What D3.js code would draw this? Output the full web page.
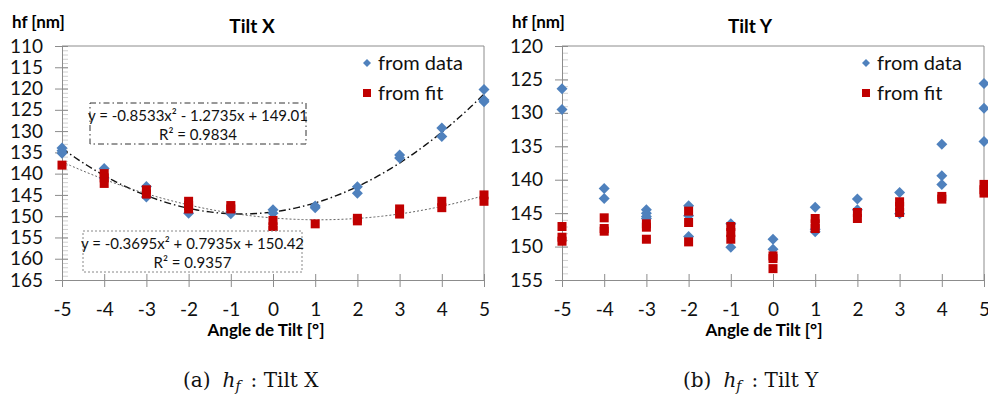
<!DOCTYPE html>
<html>
<head>
<meta charset="utf-8">
<script src="https://cdn.jsdelivr.net/npm/d3@7"></script>
<style>
  body { margin: 0; background: #fff; }
  .axis path, .axis line { stroke: #8c8c8c; }
  .axis text { font-family: Lato, sans-serif; font-size: 19px; fill: #111; }
</style>
</head>
<body>
<div id="chart"></div>
<script>
// Data

var angles = [-5, -4, -3, -2, -1, 0, 1, 2, 3, 4, 5];

var tiltXData = [[134, 134.6, 135.2], [138.8, 141], [143, 145.5], [149.3], [149, 149.4],
    [148.5, 149.3], [147.6, 148], [143.1, 144.6], [135.6, 136.3], [129.3, 131.3], [120.2, 122.7, 123.1]];
var tiltXFit = [[138], [140, 141, 142.3], [143.8, 144.8], [146.5, 147.5, 148.3], [147.5, 148.3],
    [151, 152.5, 153.3], [151.8], [150.5, 151.1], [148.3, 149.5], [146.5, 148], [145, 146.5]];

var tiltYData = [[126.4, 129.5], [141.3, 142.8], [144.5, 145, 145.5, 145.8], [143.9, 145.4, 148.5],
    [146.6, 150.1], [148.9, 150.4], [144.1, 147.4, 147.8], [142.9, 144.5], [141.9, 145.1],
    [134.7, 139.4, 140.7], [125.6, 129.3, 134.3]];
var tiltYFit = [[147, 148.6, 149.2], [145.7, 147.3, 147.7], [146.6, 147.1, 148.9], [144.7, 146.4, 149.3],
    [147, 147.9, 148.9], [151.4, 151.8, 153.3], [145.8, 146.6, 147.3], [144.9, 145.8],
    [143.3, 144, 144.9], [142.5, 142.9], [140.7, 141.5, 142]];

// trendline coefficients (a, b, c) for y = a x^2 + b x + c
var dataCoef = [-0.8533, -1.2735, 149.01],
    fitCoef = [-0.3695, 0.7935, 150.42];

var dataEq = ["y = -0.8533x² - 1.2735x + 149.01", "R² = 0.9834"],
    fitEq = ["y = -0.3695x² + 0.7935x + 150.42", "R² = 0.9357"];

var xTicks = angles;
var yTicksX = d3.range(110, 166, 5),
    yTicksY = d3.range(120, 156, 5);

var seriesNames = ["from data", "from fit"];

var blue = "#4f81bd",
    red = "#c00000";

var width = 988,
    height = 395;

var svg = d3.select("#chart").append("svg")
    .attr("width", width)
    .attr("height", height);

var flatten = function(groups) {
    var out = [];
    groups.forEach(function(g, i) {
        g.forEach(function(v) { out.push({x: angles[i], y: v}); });
    });
    return out;
};

// plain hyphen for negatives, like the original
var fmt = function(d) { return String(d); };

var drawPanel = function(opt) {
    var x = d3.scaleLinear().domain([-5, 5]).range([opt.left, opt.right]);
    var y = d3.scaleLinear().domain(opt.yDomain).range([46, 280]);

    var g = svg.append("g");

    // plot border (top / right)
    g.append("path")
        .attr("d", "M" + x(-5) + "," + y(opt.yDomain[0]) + "H" + x(5) + "V" + y(opt.yDomain[1]))
        .attr("fill", "none")
        .attr("stroke", "#8c8c8c");

    // minor ticks
    g.selectAll(".minor")
        .data(d3.range(opt.yDomain[0], opt.yDomain[1] + 1, 1))
        .enter().append("line")
        .attr("x1", x(-5)).attr("x2", x(-5) + 6)
        .attr("y1", function(d) { return y(d) + 0.5; })
        .attr("y2", function(d) { return y(d) + 0.5; })
        .attr("stroke", "#d0d0d0");

    g.append("g")
        .attr("class", "axis")
        .attr("transform", "translate(" + x(-5) + ",0)")
        .call(d3.axisLeft(y).tickValues(opt.yTicks).tickFormat(fmt).tickSize(7).tickPadding(12).tickSizeOuter(0))
        .call(function(a) {
            a.selectAll(".tick line").attr("x2", -7).attr("x1", 6).attr("stroke", "#b0b0b0");
        });

    g.append("g")
        .attr("class", "axis")
        .attr("transform", "translate(0," + y(opt.yDomain[1]) + ")")
        .call(d3.axisBottom(x).tickValues(xTicks).tickFormat(fmt).tickSize(7).tickPadding(16).tickSizeOuter(0))
        .call(function(a) {
            a.selectAll(".tick line").attr("y1", -6).attr("stroke", "#c8c8c8");
            a.selectAll(".tick text").attr("dy", "0.71em");
        });

    // trendlines
    if (opt.trends) {
        var xs = d3.range(-5, 5.001, 0.1);
        var line = d3.line()
            .x(function(d) { return x(d); });
        opt.trends.forEach(function(t) {
            g.append("path")
                .datum(xs)
                .attr("d", line.y(function(d) { return y(t.coef[0] * d * d + t.coef[1] * d + t.coef[2]); }))
                .attr("fill", "none")
                .attr("stroke", t.color)
                .attr("stroke-width", t.w)
                .attr("stroke-dasharray", t.dash);
        });
    }

    // from data: diamonds
    g.selectAll(".dia")
        .data(flatten(opt.data))
        .enter().append("path")
        .attr("d", "M0,-5.5L5.5,0L0,5.5L-5.5,0Z")
        .attr("transform", function(d) { return "translate(" + x(d.x) + "," + y(d.y) + ")"; })
        .attr("fill", blue);

    // from fit: squares
    g.selectAll(".sq")
        .data(flatten(opt.fit))
        .enter().append("rect")
        .attr("x", function(d) { return x(d.x) - 4.5; })
        .attr("y", function(d) { return y(d.y) - 4.5; })
        .attr("width", 9).attr("height", 9)
        .attr("fill", red);

    // equation boxes
    if (opt.boxes) {
        opt.boxes.forEach(function(b) {
            g.append("rect")
                .attr("x", b.x).attr("y", b.y).attr("width", b.w).attr("height", b.h)
                .attr("fill", "#fff")
                .attr("stroke", b.stroke)
                .attr("stroke-dasharray", b.dash);
            g.selectAll(null)
                .data(b.text)
                .enter().append("text")
                .attr("x", b.x + b.w / 2)
                .attr("y", function(d, i) { return b.y + 18 + i * 19; })
                .attr("text-anchor", "middle")
                .style("font-family", "Lato, sans-serif")
                .style("font-size", "15px")
                .attr("fill", "#111")
                .text(function(d) { return d; });
        });
    }

    // titles
    g.append("text")
        .attr("x", opt.left - 50).attr("y", 28)
        .style("font-family", "Lato, sans-serif").style("font-size", "17px").style("font-weight", "bold")
        .text("hf [nm]");
    g.append("text")
        .attr("x", opt.titleX).attr("y", 33)
        .attr("text-anchor", "middle")
        .style("font-family", "Lato, sans-serif").style("font-size", "19px").style("font-weight", "bold")
        .text(opt.title);
    g.append("text")
        .attr("x", opt.axisTitleX).attr("y", 336)
        .attr("text-anchor", "middle")
        .style("font-family", "Lato, sans-serif").style("font-size", "17px").style("font-weight", "bold")
        .text("Angle de Tilt [°]");

    // legend
    var lg = g.append("g").attr("transform", "translate(" + opt.legendX + ",63)");
    lg.append("path").attr("d", "M0,-4L4,0L0,4L-4,0Z").attr("fill", blue);
    lg.append("rect").attr("x", -4).attr("y", 26).attr("width", 8).attr("height", 8).attr("fill", red);
    lg.selectAll(".lt")
        .data(seriesNames)
        .enter().append("text")
        .attr("x", 11)
        .attr("y", function(d, i) { return 7 + i * 30; })
        .style("font-family", "Lato, sans-serif").style("font-size", "20px")
        .attr("fill", "#111")
        .text(function(d) { return d; });

    // caption
    var cap = svg.append("text")
        .attr("x", opt.captionX).attr("y", 387)
        .style("font-family", "'DejaVu Serif', serif").style("font-size", "20px")
        .attr("fill", "#111");
    cap.append("tspan").text(opt.captionTag);
    cap.append("tspan").attr("dx", 12).style("font-style", "italic").text("h");
    cap.append("tspan").style("font-style", "italic").style("font-size", "14px").attr("dy", 4).text("f");
    cap.append("tspan").attr("dy", -4).attr("dx", 10).text(": " + opt.title);
};

drawPanel({
    left: 62, right: 484,
    yDomain: [110, 165], yTicks: yTicksX,
    data: tiltXData, fit: tiltXFit,
    title: "Tilt X", titleX: 252, axisTitleX: 266,
    legendX: 367, captionX: 183, captionTag: "(a)",
    trends: [
        {coef: dataCoef, color: "#111", w: 1.4, dash: "7,3,1.5,3"},
        {coef: fitCoef, color: "#666", w: 1, dash: "2,2"}
    ],
    boxes: [
        {x: 90, y: 103, w: 216, h: 41, stroke: "#333", dash: "6,3,1.5,3", text: dataEq},
        {x: 83, y: 231, w: 219, h: 41, stroke: "#888", dash: "2,2", text: fitEq}
    ]
});

drawPanel({
    left: 562, right: 984,
    yDomain: [120, 155], yTicks: yTicksY,
    data: tiltYData, fit: tiltYFit,
    title: "Tilt Y", titleX: 750, axisTitleX: 764,
    legendX: 866, captionX: 683, captionTag: "(b)"
});
</script>
</body>
</html>
